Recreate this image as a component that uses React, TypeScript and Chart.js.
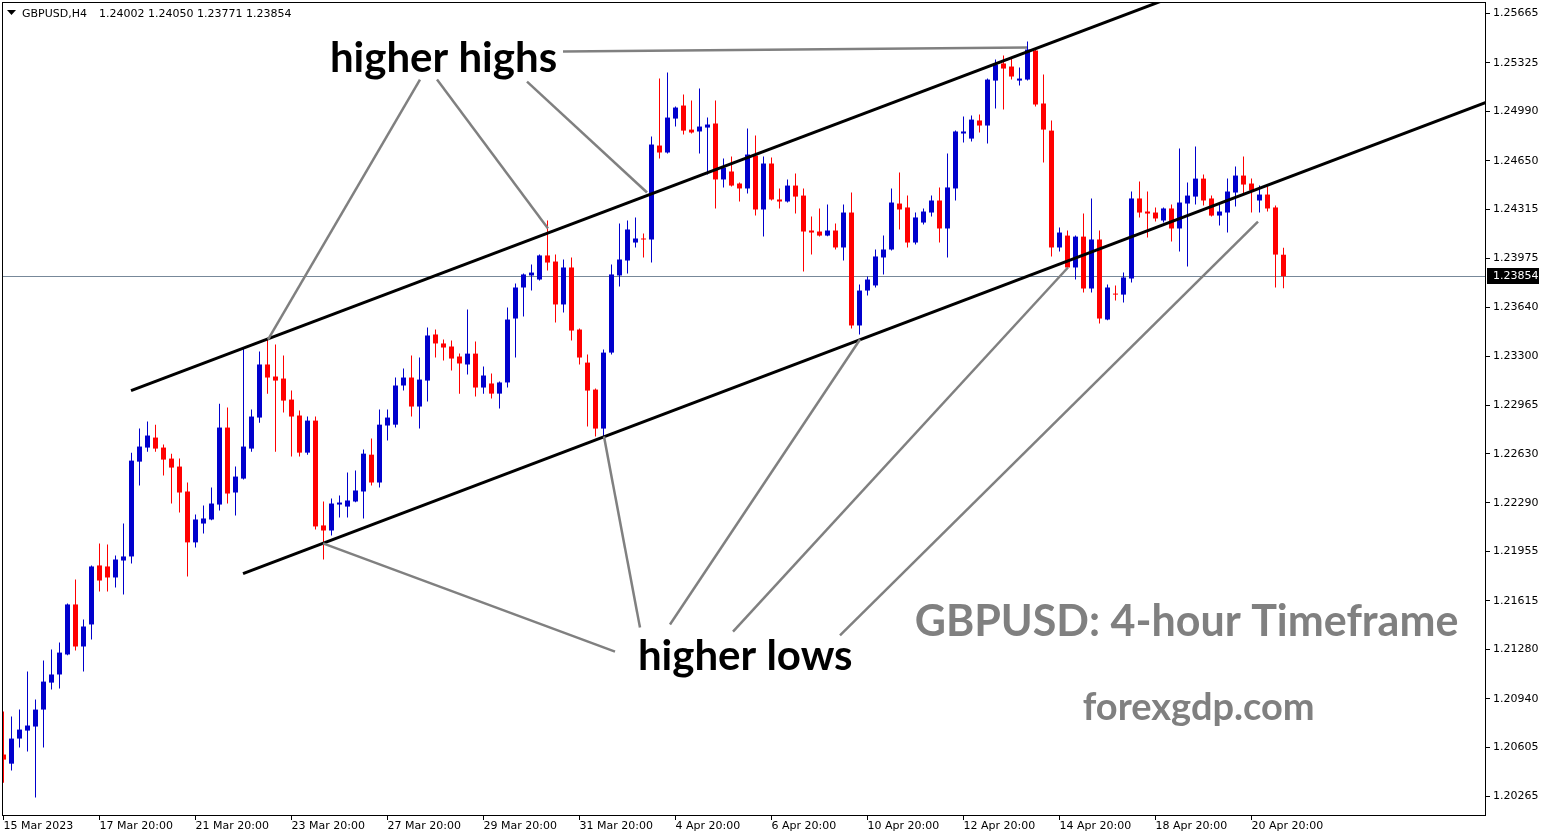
import React, { useEffect, useRef } from 'react';
import { Chart, registerables } from 'chart.js';

Chart.register(...registerables);

// ---- data (GBPUSD H4 candles) ----
const opens = [
  1.20555, 1.20492, 1.20665, 1.20720, 1.20748, 1.20865, 1.21051, 1.21107, 1.21245, 1.21590,
  1.21300, 1.21452, 1.21859, 1.21852, 1.21776, 1.21893, 1.21921, 1.22575, 1.22672, 1.22741,
  1.22672, 1.22596, 1.22541, 1.22369, 1.22018, 1.22148, 1.22176, 1.22279, 1.22810, 1.22362,
  1.22458, 1.22665, 1.22879, 1.23245, 1.23162, 1.23148, 1.23003, 1.22893, 1.22637, 1.22858,
  1.22135, 1.22100, 1.22279, 1.22265, 1.22300, 1.22369, 1.22623, 1.22431, 1.22824, 1.22830,
  1.23100, 1.23155, 1.22955, 1.23134, 1.23452, 1.23390, 1.23369, 1.23300, 1.23245, 1.23320,
  1.23086, 1.23114, 1.23044, 1.23121, 1.23562, 1.23776, 1.23859, 1.23831, 1.23997, 1.23955,
  1.23659, 1.23914, 1.23486, 1.23258, 1.23072, 1.22803, 1.23327, 1.23859, 1.23962, 1.24086,
  1.24114, 1.24107, 1.24755, 1.24707, 1.24941, 1.25031, 1.24865, 1.24852, 1.24879, 1.24907,
  1.24521, 1.24576, 1.24493, 1.24459, 1.24686, 1.24314, 1.24631, 1.24383, 1.24369, 1.24479,
  1.24410, 1.24169, 1.24162, 1.24134, 1.24169, 1.24052, 1.24293, 1.23514, 1.23755, 1.23790,
  1.23983, 1.24038, 1.24355, 1.24328, 1.24086, 1.24224, 1.24293, 1.24376, 1.24183, 1.24459,
  1.24838, 1.24803, 1.24928, 1.24893, 1.25203, 1.25321, 1.25300, 1.25203, 1.25210, 1.25410,
  1.25045, 1.24858, 1.24052, 1.24134, 1.23914, 1.24127, 1.23769, 1.24107, 1.23555, 1.23734,
  1.23727, 1.23838, 1.24390, 1.24300, 1.24293, 1.24238, 1.24321, 1.24183, 1.24355, 1.24403,
  1.24527, 1.24390, 1.24272, 1.24293, 1.24431, 1.24548, 1.24493, 1.24376, 1.24417, 1.24328,
  1.24002,
];
const highs = [
  1.20851, 1.20817, 1.20865, 1.21127, 1.20934, 1.21203, 1.21279, 1.21327, 1.21596, 1.21762,
  1.21486, 1.21858, 1.22011, 1.22004, 1.21928, 1.22148, 1.22637, 1.22803, 1.22851, 1.22830,
  1.22693, 1.22630, 1.22596, 1.22431, 1.22210, 1.22273, 1.22397, 1.22975, 1.22948, 1.22541,
  1.23362, 1.22934, 1.23334, 1.23417, 1.23383, 1.23307, 1.23065, 1.22927, 1.22886, 1.22886,
  1.22300, 1.22321, 1.22341, 1.22500, 1.22513, 1.22658, 1.22734, 1.22934, 1.22934, 1.23155,
  1.23217, 1.23307, 1.23293, 1.23500, 1.23486, 1.23417, 1.23410, 1.23320, 1.23624, 1.23403,
  1.23231, 1.23183, 1.23127, 1.23638, 1.23803, 1.23872, 1.23934, 1.24003, 1.24238, 1.24003,
  1.23969, 1.23983, 1.23493, 1.23314, 1.23079, 1.23348, 1.23934, 1.24217, 1.24238, 1.24259,
  1.24148, 1.24817, 1.25217, 1.25258, 1.25024, 1.25107, 1.25065, 1.25148, 1.24948, 1.25065,
  1.24665, 1.24679, 1.24500, 1.24872, 1.24824, 1.24679, 1.24672, 1.24459, 1.24521, 1.24562,
  1.24459, 1.24266, 1.24321, 1.24348, 1.24217, 1.24348, 1.24431, 1.23796, 1.23852, 1.24038,
  1.24134, 1.24459, 1.24569, 1.24410, 1.24293, 1.24321, 1.24410, 1.24466, 1.24700, 1.24858,
  1.24955, 1.24962, 1.24969, 1.25217, 1.25348, 1.25376, 1.25362, 1.25293, 1.25472, 1.25424,
  1.25245, 1.24928, 1.24190, 1.24169, 1.24134, 1.24286, 1.24390, 1.24169, 1.23796, 1.23790,
  1.23879, 1.24438, 1.24507, 1.24438, 1.24328, 1.24328, 1.24348, 1.24734, 1.24500, 1.24748,
  1.24555, 1.24410, 1.24348, 1.24527, 1.24610, 1.24679, 1.24527, 1.24479, 1.24472, 1.24341,
  1.24050,
];
const lows = [
  1.20361, 1.20444, 1.20603, 1.20575, 1.20258, 1.20603, 1.21003, 1.21010, 1.21240, 1.21272,
  1.21127, 1.21348, 1.21679, 1.21679, 1.21707, 1.21659, 1.21873, 1.22410, 1.22644, 1.22644,
  1.22479, 1.22286, 1.22224, 1.21783, 1.21983, 1.22079, 1.22170, 1.22238, 1.22286, 1.22203,
  1.22452, 1.22644, 1.22844, 1.23044, 1.22644, 1.22913, 1.22610, 1.22610, 1.22623, 1.22107,
  1.21900, 1.22066, 1.22190, 1.22190, 1.22295, 1.22183, 1.22410, 1.22397, 1.22720, 1.22810,
  1.23065, 1.22886, 1.22803, 1.22989, 1.23293, 1.23272, 1.23203, 1.23044, 1.23176, 1.23024,
  1.23044, 1.23010, 1.22941, 1.23086, 1.23293, 1.23576, 1.23755, 1.23825, 1.23893, 1.23534,
  1.23603, 1.23410, 1.23245, 1.22817, 1.22748, 1.22748, 1.23314, 1.23783, 1.23872, 1.24052,
  1.23983, 1.23948, 1.24665, 1.24700, 1.24886, 1.24831, 1.24838, 1.24700, 1.24555, 1.24321,
  1.24466, 1.24472, 1.24369, 1.24424, 1.24272, 1.24127, 1.24376, 1.24321, 1.24362, 1.24286,
  1.23886, 1.24003, 1.24127, 1.24130, 1.24038, 1.23962, 1.23493, 1.23452, 1.23721, 1.23776,
  1.23866, 1.24031, 1.24176, 1.24052, 1.24072, 1.24210, 1.24266, 1.24086, 1.23983, 1.24376,
  1.24776, 1.24783, 1.24845, 1.24769, 1.25010, 1.25003, 1.25210, 1.25169, 1.25203, 1.25024,
  1.24638, 1.23990, 1.24024, 1.23907, 1.23831, 1.23741, 1.23741, 1.23527, 1.23550, 1.23686,
  1.23672, 1.23810, 1.24259, 1.24120, 1.24231, 1.24224, 1.24093, 1.24024, 1.23921, 1.24348,
  1.24341, 1.24266, 1.24203, 1.24155, 1.24334, 1.24417, 1.24293, 1.24293, 1.24300, 1.23776,
  1.23771,
];
const closes = [
  1.20520, 1.20665, 1.20727, 1.20755, 1.20865, 1.21058, 1.21107, 1.21258, 1.21590, 1.21300,
  1.21438, 1.21852, 1.21755, 1.21776, 1.21900, 1.21921, 1.22582, 1.22679, 1.22755, 1.22665,
  1.22589, 1.22534, 1.22362, 1.22018, 1.22176, 1.22183, 1.22286, 1.22810, 1.22355, 1.22472,
  1.22679, 1.22886, 1.23245, 1.23155, 1.23134, 1.22996, 1.22886, 1.22637, 1.22858, 1.22128,
  1.22100, 1.22286, 1.22293, 1.22307, 1.22376, 1.22630, 1.22431, 1.22830, 1.22879, 1.23100,
  1.23155, 1.22955, 1.23141, 1.23445, 1.23390, 1.23362, 1.23286, 1.23252, 1.23320, 1.23086,
  1.23169, 1.23044, 1.23121, 1.23555, 1.23776, 1.23866, 1.23879, 1.23997, 1.23948, 1.23659,
  1.23914, 1.23479, 1.23293, 1.23065, 1.22803, 1.23327, 1.23866, 1.23969, 1.24176, 1.24114,
  1.24107, 1.24762, 1.24707, 1.24948, 1.25017, 1.24858, 1.24845, 1.24886, 1.24900, 1.24521,
  1.24603, 1.24479, 1.24459, 1.24693, 1.24314, 1.24631, 1.24383, 1.24369, 1.24479, 1.24403,
  1.24162, 1.24155, 1.24134, 1.24169, 1.24052, 1.24293, 1.23514, 1.23755, 1.23831, 1.23990,
  1.24038, 1.24362, 1.24314, 1.24086, 1.24259, 1.24300, 1.24376, 1.24183, 1.24466, 1.24852,
  1.24852, 1.24934, 1.24893, 1.25210, 1.25314, 1.25286, 1.25231, 1.25217, 1.25417, 1.25038,
  1.24865, 1.24052, 1.24155, 1.23914, 1.24127, 1.23769, 1.24107, 1.23562, 1.23776, 1.23727,
  1.23845, 1.24390, 1.24293, 1.24286, 1.24252, 1.24321, 1.24183, 1.24362, 1.24410, 1.24527,
  1.24376, 1.24272, 1.24300, 1.24438, 1.24548, 1.24486, 1.24445, 1.24417, 1.24321, 1.24003,
  1.23854,
];

const xTickIndex = [0, 12, 24, 36, 48, 60, 72, 84, 96, 108, 120, 132, 144, 156];
const xTickLabels = [
  '15 Mar 2023', '17 Mar 20:00', '21 Mar 20:00', '23 Mar 20:00', '27 Mar 20:00',
  '29 Mar 20:00', '31 Mar 20:00', '4 Apr 20:00', '6 Apr 20:00', '10 Apr 20:00',
  '12 Apr 20:00', '14 Apr 20:00', '18 Apr 20:00', '20 Apr 20:00',
];
const yTickValues = [
  1.25665, 1.25325, 1.2499, 1.2465, 1.24315, 1.23975, 1.2364, 1.233, 1.22965,
  1.2263, 1.2229, 1.21955, 1.21615, 1.2128, 1.2094, 1.20605, 1.20265,
];
const symbolTitle = 'GBPUSD,H4';
const bidPrice = 1.23854;

// channel lines (candle index, price)
const upperChannel = [{ x: 15.94, y: 1.23065 }, { x: 150, y: 1.25861 }];
const lowerChannel = [{ x: 29.94, y: 1.21802 }, { x: 185.31, y: 1.25053 }];

// pointer lines from labels to swing points: [idx1, price1, idx2, price2]
const pointerLines = [
  [52.06, 1.2521, 33.06, 1.23417],
  [54.19, 1.2521, 68.06, 1.24183],
  [65.44, 1.25196, 80.44, 1.24431],
  [69.94, 1.25403, 127.94, 1.25431],
  [76.44, 1.21265, 39.94, 1.22011],
  [79.56, 1.21431, 75.06, 1.22748],
  [83.31, 1.21452, 107.06, 1.23417],
  [91.19, 1.21403, 133.06, 1.23914],
  [104.56, 1.21376, 156.81, 1.24231],
];

const noteTexts = ['higher highs', 'higher lows', 'GBPUSD: 4-hour Timeframe', 'forexgdp.com'];
const noteIdx = [40.8, 79.3, 113.9, 134.9];
const notePrice = [1.25265, 1.21141, 1.21369, 1.20796];
const noteColor = ['#000000', '#000000', '#808080', '#808080'];
const noteSize = [42, 42, 43, 38];

const BULL = '#0000CD';
const BEAR = '#FF0000';
const AXIS_FONT = { family: 'DejaVu Sans', size: 11 };

const zeroPad = (s: any) => {
  s.paddingTop = 0;
  s.paddingBottom = 0;
  s.paddingLeft = 0;
  s.paddingRight = 0;
};

export default function App() {
  const ref = useRef<HTMLCanvasElement | null>(null);

  useEffect(() => {
    const canvas = ref.current;
    if (!canvas) return;
    const n = closes.length;
    const colors = closes.map((c, i) => (c > opens[i] ? BULL : BEAR));

    const overlay = {
      id: 'mtOverlay',
      beforeDatasetsDraw(chart: any) {
        const { ctx, chartArea, scales } = chart;
        const y = scales.y.getPixelForValue(bidPrice);
        ctx.save();
        ctx.strokeStyle = '#778899';
        ctx.lineWidth = 1;
        ctx.beginPath();
        ctx.moveTo(chartArea.left, Math.round(y) + 0.5);
        ctx.lineTo(chartArea.right, Math.round(y) + 0.5);
        ctx.stroke();
        ctx.restore();
      },
      afterDatasetsDraw(chart: any) {
        const { ctx, scales, chartArea } = chart;
        ctx.save();
        ctx.beginPath();
        ctx.rect(chartArea.left, chartArea.top, chartArea.right - chartArea.left, chartArea.bottom - chartArea.top);
        ctx.clip();
        ctx.textAlign = 'left';
        ctx.textBaseline = 'alphabetic';
        noteTexts.forEach((t, i) => {
          ctx.font = `bold ${noteSize[i]}px Lato`;
          ctx.fillStyle = noteColor[i];
          ctx.fillText(t, scales.x.getPixelForValue(noteIdx[i]), scales.y.getPixelForValue(notePrice[i]));
        });
        ctx.restore();
      },
      afterDraw(chart: any) {
        const { ctx, chartArea, scales } = chart;
        ctx.save();
        // frame
        ctx.strokeStyle = '#000';
        ctx.lineWidth = 1;
        ctx.strokeRect(chartArea.left + 0.5, chartArea.top + 0.5, chartArea.right - chartArea.left - 1, chartArea.bottom - chartArea.top - 1);
        // header
        ctx.fillStyle = '#000';
        ctx.beginPath();
        ctx.moveTo(7, 10);
        ctx.lineTo(16, 10);
        ctx.lineTo(11.5, 15);
        ctx.closePath();
        ctx.fill();
        ctx.font = '11px "DejaVu Sans"';
        ctx.textBaseline = 'middle';
        ctx.textAlign = 'left';
        ctx.fillStyle = '#000';
        ctx.fillText(symbolTitle, 22, 14);
        const last = n - 1;
        const ohlc = [opens[last], highs[last], lows[last], closes[last]].map((v) => v.toFixed(5)).join(' ');
        ctx.fillText(ohlc, 99, 14);
        // bid label
        const y = Math.round(scales.y.getPixelForValue(bidPrice));
        ctx.fillStyle = '#000';
        ctx.fillRect(chartArea.right + 1, y - 8, 52, 16);
        ctx.fillStyle = '#fff';
        ctx.fillText(bidPrice.toFixed(5), chartArea.right + 7, y + 0.5);
        ctx.restore();
      },
    };

    const chart = new Chart(canvas, {
      type: 'bar',
      data: {
        datasets: [
          ...pointerLines.map((p) => ({
            type: 'line' as const,
            data: [{ x: p[0], y: p[1] }, { x: p[2], y: p[3] }],
            borderColor: '#808080',
            borderWidth: 2.5,
            pointRadius: 0,
            order: 0,
            clip: 0,
          })),
          {
            type: 'line' as const,
            data: upperChannel,
            borderColor: '#000',
            borderWidth: 3,
            pointRadius: 0,
            order: 1,
            clip: 0,
          },
          {
            type: 'line' as const,
            data: lowerChannel,
            borderColor: '#000',
            borderWidth: 3,
            pointRadius: 0,
            order: 1,
            clip: 0,
          },
          {
            type: 'bar' as const,
            data: opens.map((o, i) => ({ x: i, y: [o, closes[i]] })),
            backgroundColor: colors,
            grouped: false,
            maxBarThickness: 5,
            barPercentage: 1,
            categoryPercentage: 1,
            minBarLength: 1,
            inflateAmount: 0,
            borderWidth: 0,
            order: 2,
          },
          {
            type: 'bar' as const,
            data: lows.map((l, i) => ({ x: i, y: [l, highs[i]] })),
            backgroundColor: colors,
            grouped: false,
            maxBarThickness: 1,
            barPercentage: 1,
            categoryPercentage: 1,
            inflateAmount: 0,
            borderWidth: 0,
            order: 3,
          },
        ] as any,
      },
      options: {
        responsive: false,
        animation: false,
        devicePixelRatio: 1,
        events: [],
        layout: { padding: { left: 2, top: 2, right: 0, bottom: 0 } },
        plugins: { legend: { display: false }, tooltip: { enabled: false } },
        scales: {
          x: {
            type: 'linear',
            min: -0.1875,
            max: 185.3125,
            offset: false,
            afterBuildTicks: (s: any) => {
              s.ticks = xTickIndex.map((v) => ({ value: v }));
            },
            afterFit: (s: any) => {
              s.height = 24;
              zeroPad(s);
            },
            grid: { display: true, drawOnChartArea: false, drawTicks: true, tickLength: 4, color: '#000', offset: false },
            border: { display: false },
            ticks: {
              autoSkip: false,
              maxRotation: 0,
              minRotation: 0,
              align: 'start',
              padding: 0,
              color: '#000',
              font: AXIS_FONT,
              callback: (v: any) => {
                const k = xTickIndex.indexOf(Number(v));
                return k >= 0 ? xTickLabels[k] : '';
              },
            },
          },
          y: {
            type: 'linear',
            position: 'right',
            min: 1.20131,
            max: 1.25745,
            afterBuildTicks: (s: any) => {
              s.ticks = yTickValues.map((v) => ({ value: v }));
            },
            afterFit: (s: any) => {
              s.width = 64;
              zeroPad(s);
            },
            grid: { display: true, drawOnChartArea: false, drawTicks: true, tickLength: 4, color: '#000' },
            border: { display: false },
            ticks: {
              autoSkip: false,
              padding: 3,
              color: '#000',
              font: AXIS_FONT,
              callback: (v: any) => Number(v).toFixed(5),
            },
          },
        },
      } as any,
      plugins: [overlay],
    });
    return () => chart.destroy();
  }, []);

  return (
    <div style={{ position: 'absolute', left: 0, top: 0, width: 1550, height: 840, background: '#fff' }}>
      <canvas ref={ref} width={1550} height={840} style={{ display: 'block' }} />
    </div>
  );
}
